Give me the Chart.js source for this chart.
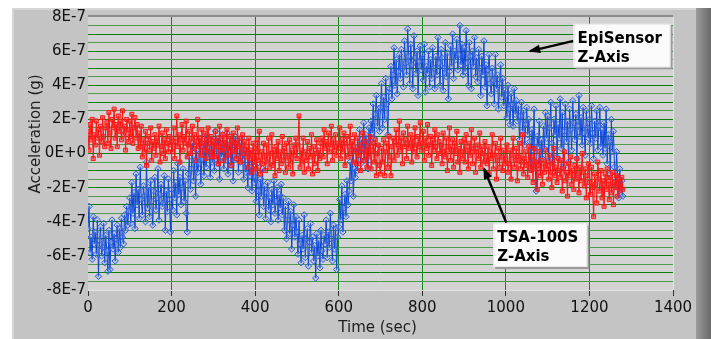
<!DOCTYPE html>
<html>
<head>
<meta charset="utf-8">
<script src="https://cdn.jsdelivr.net/npm/chart.js@4.4.1/dist/chart.umd.min.js"></script>
<style>
  html, body { margin: 0; padding: 0; background: #fff; }
  #wrap { width: 711px; height: 339px; }
</style>
</head>
<body>
<div id="wrap"><canvas id="chart" width="711" height="339"></canvas></div>
<script>
// Acceleration values in units of 1E-7 g, one sample every 2.5 s (0..1280 s)
const timeStepSec = 2.5;

const episensorZ = [
    // 0 - 97.5
    -4.4, -3.1, -5.8, -4.9, -6.2, -3.7, -5.3, -4.6, -5.9, -3.9, -7.2, -5.1, -4.3, -6.0, -5.5, -4.1, -6.4, -4.8, -5.7, -6.9,
    -4.5, -6.8, -5.2, -3.9, -5.6, -4.7, -6.3, -5.0, -4.2, -5.8, -4.4, -5.5, -3.8, -4.9, -5.3, -3.6, -4.5, -3.1, -4.2, -3.4,
    // 100 - 197.5
    -2.6, -4.1, -1.7, -3.5, -2.3, -4.4, -1.2, -3.0, -2.1, -3.8, -0.8, -2.7, -3.6, -1.9, -2.5, -4.0, -0.5, -3.2, -2.0, -3.7,
    -1.6, -2.8, -4.2, -2.2, -1.4, -3.3, -2.6, -0.9, -3.9, -2.4, -1.8, -3.1, -2.9, -1.3, -4.5, -2.2, -3.4, -1.5, -2.7, -4.6,
    // 200 - 297.5
    -2.1, -3.3, -1.0, -2.6, -1.7, -3.6, -0.6, -2.4, -1.4, -3.0, -2.0, -0.9, -2.8, -1.6, -3.5, -4.6, -1.2, -0.2, -2.1, -0.9,
    0.6, -1.6, -0.4, -2.5, 0.2, -1.1, -0.6, 0.9, -1.8, -0.3, 0.4, -1.3, 0.5, -0.8, 1.1, -0.2, 0.3, -1.4, 0.8, -0.5,
    // 300 - 397.5
    0.4, -1.0, 1.3, 0.0, -0.6, 0.9, -1.5, 0.6, -0.2, 1.1, -0.9, 0.3, -0.4, 1.2, -1.2, 0.5, 0.1, -0.7, 0.8, -1.6,
    0.2, 1.0, -0.3, 0.6, -1.1, 0.4, -0.5, 0.9, -0.4, -1.5, 0.2, -1.1, -0.7, -2.0, 0.0, -1.3, -0.8, -2.2, -0.5, -1.7,
    // 400 - 497.5
    -1.4, -2.8, -0.6, -2.2, -3.6, -1.5, -2.5, -0.9, -3.1, -1.9, -3.8, -2.3, -1.7, -3.3, -2.6, -4.0, -2.1, -3.0, -1.6, -3.5,
    -2.8, -2.0, -3.9, -2.4, -3.2, -1.8, -3.6, -2.6, -4.5, -3.1, -5.0, -3.9, -2.8, -4.7, -3.4, -5.6, -4.2, -3.0, -4.9, -3.7,
    // 500 - 597.5
    -4.6, -5.9, -3.9, -5.3, -6.4, -4.8, -5.6, -3.6, -6.1, -5.0, -4.4, -6.6, -5.2, -4.1, -5.8, -4.9, -6.3, -5.4, -7.3, -4.7,
    -6.0, -5.1, -6.7, -4.5, -5.7, -6.2, -4.8, -5.3, -3.9, -6.1, -4.6, -5.5, -3.5, -5.0, -6.3, -4.2, -5.6, -4.4, -6.8, -4.9,
    // 600 - 697.5
    -4.3, -2.7, -3.9, -1.9, -4.6, -3.2, -2.4, -3.7, -1.6, -3.0, -2.2, -0.5, -1.6, 0.2, -2.5, -0.9, -1.4, 0.3, -1.0, 0.1,
    1.4, -0.6, 0.8, 0.3, 1.8, -0.4, 1.1, 0.5, -0.9, 1.5, 0.7, 1.9, 1.2, 2.9, 0.9, 2.3, 3.4, 1.6, 2.6, 1.3,
    // 700 - 797.5
    2.7, 4.1, 1.5, 3.3, 2.0, 4.4, 2.9, 1.1, 3.6, 3.8, 5.1, 3.2, 4.6, 6.2, 4.0, 5.5, 3.5, 4.8, 5.8, 4.4,
    6.1, 5.0, 3.9, 6.6, 5.3, 4.6, 7.3, 5.7, 4.1, 6.4, 5.2, 3.8, 6.9, 5.6, 4.7, 6.0, 3.4, 5.4, 6.3, 4.9,
    // 800 - 897.5
    5.8, 4.3, 6.4, 3.6, 5.1, 4.7, 6.0, 3.9, 5.5, 4.4, 6.2, 5.0, 3.8, 5.7, 4.6, 6.8, 5.3, 4.0, 6.1, 5.6,
    3.7, 5.0, 6.5, 4.5, 5.9, 3.2, 4.8, 6.3, 5.1, 7.0, 4.4, 6.0, 5.5, 6.7, 4.9, 5.8, 7.5, 5.2, 6.4, 4.6,
    // 900 - 997.5
    6.2, 4.8, 7.2, 5.3, 4.0, 6.5, 5.7, 3.8, 6.0, 5.1, 6.8, 4.5, 5.6, 4.2, 6.1, 5.0, 3.4, 5.7, 4.6, 6.6,
    3.9, 5.2, 2.8, 4.9, 5.8, 4.1, 3.5, 5.0, 4.3, 2.9, 5.8, 3.8, 4.6, 2.6, 4.1, 5.2, 3.3, 4.4, 2.8, 3.7,
    // 1000 - 1097.5
    3.4, 2.1, 4.0, 2.6, 1.7, 3.5, 2.9, 1.6, 3.8, 2.3, 3.1, 1.9, 2.8, 0.8, 2.2, 3.0, 1.3, 2.5, 0.5, 1.7,
    2.7, 1.1, 2.0, 0.7, -0.9, 1.4, 0.2, 2.6, -0.5, -2.2, 1.0, 0.4, 1.9, -1.1, 0.8, -0.3, 1.6, 0.3, 2.4, 0.9,
    // 1100 - 1197.5
    2.2, -0.4, 1.5, 3.0, 0.6, -1.1, 2.0, 1.1, 2.8, -0.2, 1.7, 0.9, 3.2, 0.3, 2.4, -0.8, 1.3, 2.9, 0.7, 1.9,
    -0.5, 2.6, 1.4, 0.2, 3.1, 1.8, 0.8, 2.3, -0.3, 1.6, 3.4, 1.0, 2.1, 0.5, 2.7, 1.2, -0.1, 2.5, 1.5, 0.9,
    // 1200 - 1280
    2.0, 0.6, 2.8, 1.2, -0.3, 1.9, 0.9, 2.5, 0.2, 1.6, 2.7, 0.4, 1.4, -0.1, 1.8, 0.3, 2.6, -0.6, 1.1, 0.7,
    -1.2, 2.0, 0.1, 1.3, -0.8, -1.9, 0.1, -1.4, -2.6, -0.9, -2.1, -1.6, -2.5
];

const tsa100sZ = [
    // 0 - 97.5
    1.3, 0.2, 1.7, 0.8, 2.0, -0.3, 1.1, 0.5, 1.9, 0.9, 1.4, -0.1, 1.6, 0.7, 2.1, 1.0, 0.4, 1.5, 1.8, 0.6,
    2.4, 1.2, 0.3, 2.0, 1.5, 2.6, 0.9, 1.7, 0.4, 2.2, 1.3, 1.9, 0.8, 2.5, 1.1, 1.6, 0.2, 2.0, 1.4, 0.7,
    // 100 - 197.5
    1.9, 1.0, 2.3, 0.6, 1.5, 2.1, 0.9, 1.7, 0.3, 1.2, 0.4, 1.6, -0.2, 0.8, 0.1, 1.3, -0.7, 0.6, 1.0, 0.2,
    1.5, -0.4, 0.7, 0.3, 1.1, -0.1, 0.9, 0.5, 1.6, -0.5, 0.4, 1.2, 0.0, 0.8, -0.3, 1.4, 0.6, 0.1, 1.0, 0.5,
    // 200 - 297.5
    0.9, 0.1, 1.5, -0.3, 0.7, 2.2, 0.4, 1.1, -0.5, 0.8, 1.7, 0.2, 1.0, 0.6, 1.9, -0.2, 0.5, 1.3, 0.0, 0.9,
    1.6, 0.3, 1.1, -0.4, 0.7, 2.0, 0.4, 0.9, -0.1, 1.4, 0.6, 0.2, 1.2, -0.3, 0.8, 1.5, 0.1, 0.6, 1.0, -0.2,
    // 300 - 397.5
    0.7, -0.2, 1.3, 0.4, 0.9, -0.6, 1.6, 0.2, 0.6, 1.1, -0.4, 0.8, 0.3, 1.4, -0.1, 0.5, 1.0, -0.7, 0.7, 1.2,
    0.1, 0.6, -0.3, 1.5, 0.4, 0.9, -0.5, 0.3, 1.1, 0.0, 0.7, -0.2, 0.4, -0.8, 0.9, -0.3, 0.2, -1.1, 0.6, -0.5,
    // 400 - 497.5
    0.3, -0.9, 0.8, -0.4, 1.3, -1.2, 0.1, -0.6, 0.6, -0.2, -1.0, 0.5, -0.5, 0.9, -0.8, 0.0, 1.1, -0.7, 0.2, -1.3,
    0.4, -0.3, 0.7, -1.0, 0.1, -0.6, 1.0, -0.4, 0.3, -1.1, 0.6, -0.2, -0.8, 0.8, -0.5, 0.2, -1.2, 0.5, -0.1, 0.9,
    // 500 - 597.5
    -0.3, 0.5, 2.2, -0.8, 0.2, -0.5, 0.9, -1.1, 0.1, -0.4, 0.7, -0.9, 0.3, -0.2, 1.1, -1.2, 0.4, -0.6, 0.0, 0.8,
    -1.0, 0.2, -0.3, 0.6, 0.9, -0.2, 1.4, 0.3, 0.7, -0.6, 1.2, 0.1, 0.5, 1.6, -0.4, 0.8, 0.2, 1.1, -0.1, 0.6,
    // 600 - 697.5
    0.3, 1.5, -0.3, 0.8, 0.1, 1.2, -0.7, 0.6, 1.0, -0.2, 0.4, 1.6, 0.0, 0.7, -0.5, 1.1, 0.2, -0.6, 0.9, -0.1,
    0.5, -1.0, 0.3, 1.2, -0.4, 0.1, 0.7, -0.8, 0.4, -0.2, 1.0, -0.9, 0.2, 0.6, -0.5, 0.8, -1.3, 0.0, 0.5, -0.7,
    // 700 - 797.5
    -1.2, 0.3, -0.5, 0.8, -1.3, 0.1, 0.6, -0.8, 1.0, -0.2, -1.3, 0.4, 0.9, -0.4, 0.7, 1.4, -0.1, 0.5, 1.9, 0.2,
    0.9, -0.6, 1.2, 0.4, 0.8, -0.3, 1.6, 0.3, 0.6, 1.1, -0.5, 0.9, 0.1, 1.5, 0.5, -0.2, 1.0, 0.4, 1.8, 0.2,
    // 800 - 897.5
    0.6, 1.3, -0.4, 0.9, 0.3, 1.7, -0.1, 0.5, 1.0, -0.7, 0.8, 0.2, 1.4, 0.4, -0.3, 1.1, 0.7, 0.0, 0.5, -0.6,
    1.2, 0.1, -0.2, 0.9, -1.0, 0.4, 1.5, -0.4, 0.2, 0.8, -0.8, 0.6, 0.0, 1.3, -0.5, 0.3, -1.1, 0.7, 0.1, -0.3,
    // 900 - 997.5
    0.8, -0.5, 1.1, 0.2, -0.9, 0.6, -0.1, 1.4, -0.6, 0.3, 0.9, -1.1, 0.1, 0.5, -0.3, 1.2, -0.8, 0.4, 0.0, -0.5,
    0.7, -0.2, -0.6, 0.4, -1.2, 0.1, -0.3, 1.1, -0.9, -0.1, 0.6, -1.5, -0.4, 0.3, -0.8, 0.9, -0.2, -1.0, 0.2, -0.6,
    // 1000 - 1097.5
    -0.3, 0.5, -1.1, -0.6, 0.2, -1.5, -0.1, 0.9, -0.8, -0.4, 0.3, -1.6, -0.2, 0.6, -0.9, -0.5, 1.1, -1.2, -0.3, 0.1,
    -0.7, -1.4, 0.4, -0.6, -1.0, -0.2, -1.7, 0.3, -0.9, -0.5, -2.1, -0.7, 0.1, -1.3, -0.4, -1.8, -0.6, -1.1, 0.2, -0.9,
    // 1100 - 1197.5
    -0.5, -1.5, -0.1, -1.1, -2.0, -0.6, 0.3, -1.3, -0.8, -1.7, -0.3, -1.0, -1.4, -0.4, -2.2, -0.9, 0.1, -1.6, -1.1, -2.5,
    -0.6, -1.3, -0.2, -1.8, -1.0, -2.1, -0.7, -1.5, -0.3, -1.2, -2.3, -0.8, -1.6, 0.0, -1.1, -1.9, -0.9, -2.6, -1.3, -0.6,
    // 1200 - 1280
    -1.7, -2.4, -0.8, -2.0, -3.7, -1.2, -1.8, -2.9, -0.5, -1.5, -2.2, -1.0, -2.6, -1.6, -3.1, -1.2, -2.1, -0.9, -1.8, -2.7,
    -1.4, -2.3, -1.1, -3.0, -1.7, -2.0, -1.3, -2.5, -1.5, -2.2, -1.9, -1.4, -2.1
];

const yLabelValues = [-8, -6, -4, -2, 0, 2, 4, 6, 8];

// callouts, anchored in data coordinates: [x, y] in sec / 1E-7 g
const callouts = [
    { lines: ['EpiSensor', 'Z-Axis'], box: [1162, 7.6, 1394, 5.05], from: [1162, 6.6], to: [1058, 6.0] },
    { lines: ['TSA-100S', 'Z-Axis'], box: [970, -4.1, 1195, -6.65], from: [1001, -4.05], to: [948, -0.9] }
];

const toPoints = vals => vals.map((v, i) => ({ x: i * timeStepSec, y: v }));

const panelPlugin = {
    id: 'panel',
    beforeDraw(chart) {
        const { ctx, chartArea: a } = chart;
        ctx.save();
        ctx.fillStyle = '#ffffff';
        ctx.fillRect(0, 0, chart.width, chart.height);
        // outer gray panel
        ctx.fillStyle = '#c4c4c4';
        ctx.fillRect(12, 8, 686, chart.height - 8);
        ctx.fillStyle = '#d6d6d6';
        ctx.fillRect(12, 8, 2, chart.height - 8);
        ctx.fillRect(12, 8, 686, 2);
        const g = ctx.createLinearGradient(696, 0, 711, 0);
        g.addColorStop(0, '#9a9a9a');
        g.addColorStop(1, '#6a6a6a');
        ctx.fillStyle = g;
        ctx.fillRect(696, 8, 15, chart.height - 8);
        // plot area
        ctx.fillStyle = '#d3d3d3';
        ctx.fillRect(a.left, a.top, a.right - a.left, a.bottom - a.top);
        ctx.restore();
    },
    afterDraw(chart) {
        const { ctx, chartArea: a, scales: { x, y } } = chart;
        ctx.save();
        // plot frame
        ctx.strokeStyle = '#8c8c8c';
        ctx.lineWidth = 2;
        ctx.beginPath();
        ctx.moveTo(a.left, a.top - 1);
        ctx.lineTo(a.right, a.top - 1);
        ctx.stroke();
        ctx.strokeStyle = '#e4e4e4';
        ctx.lineWidth = 1;
        ctx.beginPath();
        ctx.moveTo(a.left, a.bottom + 0.5);
        ctx.lineTo(a.right, a.bottom + 0.5);
        ctx.moveTo(a.right + 0.5, a.top);
        ctx.lineTo(a.right + 0.5, a.bottom);
        ctx.stroke();

        // axis titles
        ctx.fillStyle = '#1e1e1e';
        ctx.font = '15px "DejaVu Sans"';
        ctx.textAlign = 'center';
        ctx.textBaseline = 'middle';
        ctx.fillText('Time (sec)', (a.left + a.right) / 2 - 3, 328);
        ctx.save();
        ctx.translate(36, 134);
        ctx.rotate(-Math.PI / 2);
        ctx.fillText('Acceleration (g)', 0, 0);
        ctx.restore();

        // callouts
        callouts.forEach(c => {
            const x0 = x.getPixelForValue(c.box[0]), y0 = y.getPixelForValue(c.box[1]);
            const x1 = x.getPixelForValue(c.box[2]), y1 = y.getPixelForValue(c.box[3]);
            const fx = x.getPixelForValue(c.from[0]), fy = y.getPixelForValue(c.from[1]);
            const tx = x.getPixelForValue(c.to[0]), ty = y.getPixelForValue(c.to[1]);

            // arrow
            ctx.strokeStyle = '#000';
            ctx.fillStyle = '#000';
            ctx.lineWidth = 2.5;
            ctx.beginPath();
            ctx.moveTo(fx, fy);
            ctx.lineTo(tx, ty);
            ctx.stroke();
            const ang = Math.atan2(ty - fy, tx - fx);
            ctx.beginPath();
            ctx.moveTo(tx + Math.cos(ang) * 2, ty + Math.sin(ang) * 2);
            ctx.lineTo(tx - Math.cos(ang - 0.4) * 11, ty - Math.sin(ang - 0.4) * 11);
            ctx.lineTo(tx - Math.cos(ang + 0.4) * 11, ty - Math.sin(ang + 0.4) * 11);
            ctx.closePath();
            ctx.fill();

            // box with soft shadow
            ctx.fillStyle = '#9a9a9a';
            ctx.fillRect(x0 + 2, y0 + 2, x1 - x0, y1 - y0);
            ctx.fillStyle = '#fbfbfb';
            ctx.fillRect(x0, y0, x1 - x0, y1 - y0);
            ctx.strokeStyle = '#e8e8e8';
            ctx.lineWidth = 1;
            ctx.strokeRect(x0 + 0.5, y0 + 0.5, x1 - x0 - 1, y1 - y0 - 1);

            ctx.fillStyle = '#000';
            ctx.font = 'bold 15px "DejaVu Sans"';
            ctx.textAlign = 'left';
            ctx.textBaseline = 'alphabetic';
            ctx.fillText(c.lines[0], x0 + 4, y0 + 19);
            ctx.fillText(c.lines[1], x0 + 4, y0 + 38);
        });
        ctx.restore();
    }
};

new Chart(document.getElementById('chart'), {
    type: 'line',
    data: {
        datasets: [
            {
                label: 'TSA-100S Z-Axis',
                data: toPoints(tsa100sZ),
                borderColor: '#ff1010',
                borderWidth: 1,
                pointStyle: 'rect',
                pointRadius: 2.8,
                pointBorderWidth: 1,
                pointBorderColor: '#ff1a1a',
                pointBackgroundColor: 'rgba(255, 30, 30, 0.5)'
            },
            {
                label: 'EpiSensor Z-Axis',
                data: toPoints(episensorZ),
                borderColor: '#0a45d8',
                borderWidth: 1,
                pointStyle: 'rectRot',
                pointRadius: 3.2,
                pointBorderWidth: 1,
                pointBorderColor: '#2a5ee0',
                pointBackgroundColor: 'rgba(120, 150, 230, 0.25)'
            }
        ]
    },
    options: {
        responsive: false,
        devicePixelRatio: 1,
        animation: false,
        layout: { padding: { top: 17, right: 38, left: 0, bottom: 0 } },
        plugins: {
            legend: { display: false },
            tooltip: { enabled: false }
        },
        elements: {
            line: { tension: 0 }
        },
        scales: {
            x: {
                type: 'linear',
                min: 0,
                max: 1400,
                afterFit: scale => { scale.height = 49; },
                border: { display: false },
                grid: {
                    color: ctx => (ctx.index === 0 || ctx.index === 7) ? 'rgba(0,0,0,0)' : '#138a13',
                    tickColor: '#333',
                    tickLength: 6,
                    lineWidth: 1
                },
                ticks: {
                    stepSize: 200,
                    padding: 3,
                    color: '#111',
                    font: { family: 'DejaVu Sans', size: 15 },
                    maxRotation: 0,
                    callback: v => String(v)
                }
            },
            y: {
                type: 'linear',
                min: -8,
                max: 8,
                afterFit: scale => { scale.width = 88; },
                border: { display: false },
                grid: {
                    drawTicks: false,
                    color: ctx => (ctx.tick && Math.abs(ctx.tick.value) === 8) ? 'rgba(0,0,0,0)'
                        : (ctx.index % 2 === 0 ? '#0b7f0b' : '#4f9a4f'),
                    lineWidth: 1
                },
                ticks: {
                    stepSize: 0.5,
                    autoSkip: false,
                    padding: 2,
                    color: '#111',
                    font: { family: 'DejaVu Sans', size: 15 },
                    callback: v => {
                        if (!yLabelValues.includes(v)) return '';
                        return v === 0 ? '0E+0' : v + 'E-7';
                    }
                }
            }
        }
    },
    plugins: [panelPlugin]
});
</script>
</body>
</html>
